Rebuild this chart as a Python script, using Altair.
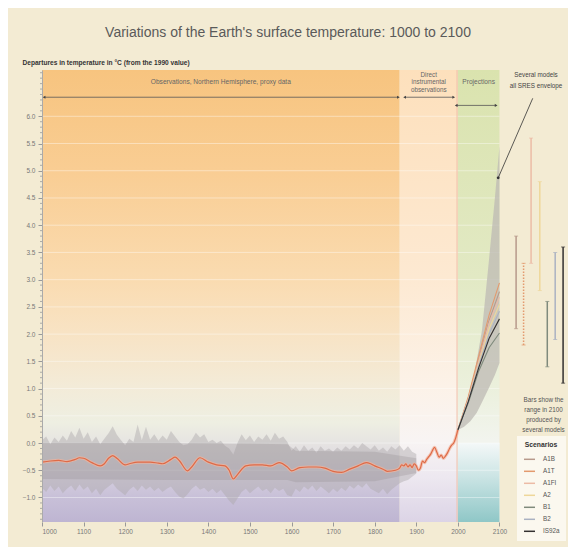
import altair as alt
import pandas as pd

# ---------------- data ----------------
period_names = ["proxy", "instrumental", "projection"]
period_start = [1000, 1860, 2000]
period_end = [1860, 2000, 2100]

# proxy-data envelope (annual spread), every 10 years 1000..1900
band_years = list(range(1000, 1901, 10))
band_upper = [0.05, 0.12, -0.02, 0.10, 0.02, 0.14, 0.04, 0.22, 0.10, 0.28,
              0.08, 0.20, 0.02, 0.12, -0.02, 0.08, 0.18, 0.31, 0.15, 0.05,
              -0.04, 0.08, 0.02, 0.34, 0.05, 0.30, 0.06, 0.16, 0.04, 0.14,
              0.06, 0.22, 0.12, 0.02, -0.04, -0.02, 0.06, 0.19, 0.10, 0.16,
              0.02, 0.06, 0.00, 0.04, -0.05, -0.10, -0.21, 0.00, 0.16, 0.05,
              0.14, 0.02, 0.12, 0.06, 0.16, 0.04, 0.19, 0.08, 0.12, 0.02,
              -0.14, -0.06, -0.16, -0.04, -0.14, -0.08, -0.18, -0.06, -0.14, -0.10,
              -0.16, -0.08, -0.14, -0.06, -0.12, -0.04, -0.10, 0.00, -0.06, -0.12,
              -0.04, -0.14, -0.08, -0.16, -0.06, -0.12, -0.04, -0.14, -0.06, -0.16,
              -0.20]
band_lower = [-0.82, -0.90, -0.78, -0.88, -0.80, -0.92, -0.84, -0.78, -0.88, -0.76,
              -0.86, -0.80, -0.92, -0.84, -0.96, -0.86, -0.80, -0.74, -0.84, -0.90,
              -0.96, -0.86, -0.80, -0.88, -0.78, -0.86, -0.80, -0.88, -0.82, -0.90,
              -0.84, -0.80, -0.90, -0.98, -1.02, -0.94, -0.84, -0.78, -0.86, -0.82,
              -0.90, -0.84, -0.92, -0.86, -0.96, -1.06, -1.14, -1.02, -0.90, -0.84,
              -0.92, -0.86, -0.80, -0.88, -0.84, -0.92, -0.82, -0.88, -0.84, -0.96,
              -0.98, -0.84, -0.90, -0.80, -0.86, -0.78, -0.88, -0.80, -0.86, -0.92,
              -0.84, -0.90, -0.82, -0.88, -0.78, -0.84, -0.76, -0.82, -0.74, -0.84,
              -0.88, -0.92, -0.84, -0.94, -0.86, -0.80, -0.74, -0.70, -0.68, -0.62,
              -0.56]

# darker core of the proxy spread
core_years = [1000, 1300, 1590, 1610, 1800, 1900]
core_upper = [0.00, 0.00, -0.02, -0.14, -0.16, -0.28]
core_lower = [-0.66, -0.68, -0.68, -0.72, -0.70, -0.55]

# smoothed proxy record (Northern Hemisphere)
proxy_years = [1000, 1020, 1040, 1060, 1080, 1090, 1100, 1120, 1140, 1150, 1160, 1170,
               1180, 1200, 1210, 1230, 1260, 1280, 1290, 1310, 1320, 1330, 1350, 1360,
               1380, 1400, 1420, 1440, 1450, 1460, 1470, 1490, 1510, 1530, 1550, 1570,
               1590, 1600, 1620, 1640, 1660, 1680, 1700, 1720, 1740, 1760, 1780, 1790,
               1800, 1820, 1830, 1850, 1860]
proxy_vals = [-0.35, -0.33, -0.32, -0.34, -0.30, -0.27, -0.28, -0.36, -0.42, -0.38, -0.28, -0.23,
              -0.28, -0.40, -0.38, -0.35, -0.35, -0.37, -0.38, -0.30, -0.26, -0.32, -0.51, -0.44,
              -0.27, -0.35, -0.40, -0.42, -0.50, -0.66, -0.58, -0.42, -0.40, -0.40, -0.42, -0.36,
              -0.44, -0.51, -0.45, -0.44, -0.44, -0.46, -0.52, -0.54, -0.48, -0.42, -0.36, -0.38,
              -0.42, -0.48, -0.52, -0.50, -0.46]

# direct instrumental record
instr_years = [1860, 1865, 1870, 1875, 1880, 1885, 1890, 1895, 1900, 1905, 1910, 1915,
               1920, 1925, 1930, 1935, 1940, 1944, 1950, 1955, 1960, 1965, 1970, 1975,
               1980, 1985, 1990, 1995, 2000]
instr_vals = [-0.46, -0.40, -0.42, -0.38, -0.44, -0.40, -0.45, -0.38, -0.42, -0.50, -0.46, -0.33,
              -0.36, -0.30, -0.25, -0.20, -0.12, -0.08, -0.18, -0.26, -0.22, -0.28, -0.24, -0.18,
              -0.10, -0.04, 0.00, 0.10, 0.24]

# projection envelope (several models, all SRES)
env_years = [2000, 2015, 2030, 2045, 2058, 2074, 2089, 2100]
env_upper = [0.24, 0.50, 0.85, 1.50, 2.07, 3.30, 4.50, 5.45]
env_lower = [0.24, 0.30, 0.40, 0.55, 0.75, 1.00, 1.25, 1.47]

# scenario projections
scenarios = ["A1B", "A1T", "A1FI", "A2", "B1", "B2", "IS92a"]
scen_colors = ["#b89a8c", "#e39a6e", "#ecbba6", "#eed79a", "#7f8a7c", "#aab2c2", "#333030"]
proj_years = [2000, 2025, 2050, 2075, 2100]
proj_vals = {
    "A1B":   [0.24, 0.82, 1.55, 2.25, 2.78],
    "A1T":   [0.24, 0.85, 1.60, 2.35, 2.94],
    "A1FI":  [0.24, 0.80, 1.50, 2.20, 2.68],
    "A2":    [0.24, 0.78, 1.45, 2.10, 2.55],
    "B1":    [0.24, 0.74, 1.32, 1.75, 2.02],
    "B2":    [0.24, 0.78, 1.42, 2.00, 2.42],
    "IS92a": [0.24, 0.76, 1.38, 1.92, 2.28],
}
# ranges in 2100 produced by several models
range_low = [2.1, 1.8, 3.3, 2.8, 1.4, 1.9, 1.1]
range_high = [3.8, 3.3, 5.6, 4.8, 2.6, 3.5, 3.6]

y_ticks = [-1.0, -0.5, 0.0, 0.5, 1.0, 1.5, 2.0, 2.5, 3.0, 3.5, 4.0, 4.5, 5.0, 5.5, 6.0]
y_minor = [-1.4, -1.3, -1.2, -1.1, -0.9, -0.8, -0.7, -0.6, -0.4, -0.3, -0.2, -0.1,
           0.1, 0.2, 0.3, 0.4, 0.6, 0.7, 0.8, 0.9, 1.1, 1.2, 1.3, 1.4, 1.6, 1.7, 1.8, 1.9,
           2.1, 2.2, 2.3, 2.4, 2.6, 2.7, 2.8, 2.9, 3.1, 3.2, 3.3, 3.4, 3.6, 3.7, 3.8, 3.9,
           4.1, 4.2, 4.3, 4.4, 4.6, 4.7, 4.8, 4.9, 5.1, 5.2, 5.3, 5.4, 5.6, 5.7, 5.8, 5.9,
           6.1, 6.2, 6.3, 6.4, 6.5, 6.6, 6.7, 6.8]
x_ticks = [1000, 1100, 1200, 1300, 1400, 1500, 1600, 1700, 1800, 1900, 2000, 2100]

# ---------------- layout helpers (not data) ----------------
FONT = "Liberation Sans"
XS = alt.Scale(domain=[1000, 2260], nice=False, zero=False)
YS = alt.Scale(domain=[-1.45, 6.85], nice=False, zero=False)
bar_slots = [2140, 2158, 2176, 2197, 2215, 2234, 2253]  # slots right of the plot for the range bars

AXX = alt.Axis(values=x_ticks, format="d", title=None, domain=False, grid=False,
               labelFontSize=6.5, labelColor="#777", labelFont=FONT,
               tickColor="#999", tickSize=4, labelPadding=2, zindex=2)
AXY = alt.Axis(values=y_ticks, format=".1f", grid=False,
               title="Departures in temperature in °C (from the 1990 value)",
               titleAngle=0, titleAlign="left", titleBaseline="bottom",
               titleX=-20, titleY=-5, titleFontSize=6.6, titleFont=FONT,
               titleFontWeight="bold", titleColor="#333",
               labelFontSize=6.5, labelColor="#777", labelFont=FONT,
               tickColor="#999", tickSize=4, labelPadding=3, domainColor="#aaa", zindex=2)


def X(f, **kw):
    return alt.X(f, type="quantitative", scale=XS, axis=AXX, **kw)


def Y(f, **kw):
    return alt.Y(f, type="quantitative", scale=YS, axis=AXY, **kw)


def grad(stops):
    return alt.Gradient(gradient="linear", x1=0, x2=0, y1=0, y2=1,
                        stops=[alt.GradientStop(offset=o, color=c) for o, c in stops])


Y_TOP, Y_BOT = 6.85, -1.45

# ---------------- background columns ----------------
bg_grads = [
    grad([(0.0, "#f7c47f"), (0.22, "#f9cd93"), (0.46, "#fadbb0"), (0.58, "#f8e3c4"),
          (0.70, "#f3ebd8"), (0.78, "#eeefe2"), (0.825, "#e6e4e2"), (0.886, "#d8d2e0"),
          (0.946, "#c8c0d8"), (1.0, "#beb5d2")]),
    grad([(0.0, "#fde0bc"), (0.46, "#fde9d2"), (0.70, "#fcf2e8"), (0.82, "#f8f4f3"),
          (0.90, "#ede8f0"), (1.0, "#dcd4e6")]),
    grad([(0.0, "#dae3ae"), (0.46, "#e2e9c4"), (0.70, "#ebf0dc"), (0.82, "#f2f4ee"),
          (1.0, "#f2f4ee")]),
]

layers = []
for i, name in enumerate(period_names):
    df = pd.DataFrame({"x0": [period_start[i]], "x1": [period_end[i]], "y0": [Y_BOT], "y1": [Y_TOP]})
    layers.append(alt.Chart(df).mark_rect(color=bg_grads[i]).encode(
        x=X("x0:Q"), x2="x1:Q", y=Y("y0:Q"), y2="y1:Q"))

# teal block below zero in projections column
teal = alt.Chart(pd.DataFrame({"x0": [2000], "x1": [2100], "y0": [Y_BOT], "y1": [0.0]})).mark_rect(
    color=grad([(0.0, "#f4f8f8"), (0.35, "#d3e8e8"), (1.0, "#8fc7c7")])
).encode(x=X("x0:Q"), x2="x1:Q", y=Y("y0:Q"), y2="y1:Q")
layers.append(teal)

# white grid lines
grid = alt.Chart(pd.DataFrame({"y": y_ticks, "x0": 1000, "x1": 2100})).mark_rule(
    color="white", opacity=0.4, strokeWidth=1
).encode(x=X("x0:Q"), x2="x1:Q", y=Y("y:Q"))
layers.append(grid)

# minor ticks along the y axis
layers.append(alt.Chart(pd.DataFrame({"y": y_minor})).mark_rule(color="#999", strokeWidth=0.8).encode(
    y=Y("y:Q"), x=alt.value(-2), x2=alt.value(0)))

# boundary line at 2000
layers.append(alt.Chart(pd.DataFrame({"x": [1998], "y0": [Y_BOT], "y1": [Y_TOP]})).mark_rule(
    color="#efbfaa", strokeWidth=1).encode(x=X("x:Q"), y=Y("y0:Q"), y2="y1:Q"))

# proxy spread
band_df = pd.DataFrame({"year": band_years, "hi": band_upper, "lo": band_lower})
layers.append(alt.Chart(band_df).mark_area(color="#aea8aa", opacity=0.45).encode(
    x=X("year:Q"), y=Y("lo:Q"), y2="hi:Q"))
core_df = pd.DataFrame({"year": core_years, "hi": core_upper, "lo": core_lower})
layers.append(alt.Chart(core_df).mark_area(color="#948e92", opacity=0.3).encode(
    x=X("year:Q"), y=Y("lo:Q"), y2="hi:Q"))

# projection envelope
env_df = pd.DataFrame({"year": env_years, "hi": env_upper, "lo": env_lower})
layers.append(alt.Chart(env_df).mark_area(color="#bdb9b4", opacity=0.75).encode(
    x=X("year:Q"), y=Y("lo:Q"), y2="hi:Q"))

color_scale = alt.Scale(domain=scenarios, range=scen_colors)

# scenario lines
rows = []
for s in scenarios:
    for yr, v in zip(proj_years, proj_vals[s]):
        rows.append({"scenario": s, "year": yr, "temp": v})
proj_df = pd.DataFrame(rows)
layers.append(alt.Chart(proj_df).mark_line(strokeWidth=1.1).encode(
    x=X("year:Q"), y=Y("temp:Q"),
    color=alt.Color("scenario:N", scale=color_scale, sort=scenarios,
                    legend=alt.Legend(title="Scenarios", orient="none", legendX=475, legendY=366,
                                      fillColor="#fbf8ef", padding=6, titleFontSize=6.8,
                                      titleFontWeight="bold", titleColor="#333", titleAnchor="middle",
                                      titleFont=FONT, labelFont=FONT, labelFontSize=6.3, labelColor="#555",
                                      symbolType="stroke", symbolSize=120, symbolStrokeWidth=1.5,
                                      rowPadding=2, titlePadding=4, labelOffset=7)),
    detail="scenario:N"))

# red temperature record with soft halo
red_df = pd.DataFrame({"year": proxy_years + instr_years[1:],
                       "temp": proxy_vals + instr_vals[1:]})
layers.append(alt.Chart(red_df).mark_line(color="#f2b49c", strokeWidth=3.2, opacity=0.7,
                                          interpolate="monotone").encode(
    x=X("year:Q"), y=Y("temp:Q")))
layers.append(alt.Chart(red_df).mark_line(color="#de6a47", strokeWidth=1.2, interpolate="monotone").encode(
    x=X("year:Q"), y=Y("temp:Q")))

# range bars at right
bars_df = pd.DataFrame({"scenario": scenarios, "slot": bar_slots, "lo": range_low, "hi": range_high})
layers.append(alt.Chart(bars_df).mark_rule(strokeWidth=1.5).encode(
    x=X("slot:Q"), y=Y("lo:Q"), y2="hi:Q",
    color=alt.Color("scenario:N", scale=color_scale, legend=None),
    strokeDash=alt.condition(alt.datum.scenario == "A1T", alt.value([1.5, 1.5]), alt.value([1, 0]))))
for fld in ["lo", "hi"]:
    layers.append(alt.Chart(bars_df).mark_tick(orient="horizontal", size=4, thickness=1).encode(
        x=X("slot:Q"), y=Y(f"{fld}:Q"),
        color=alt.Color("scenario:N", scale=color_scale, legend=None)))

# header arrows
arrows_df = pd.DataFrame({"x0": [1005, 1872, 1996], "x1": [1857, 1990, 2092], "y": [6.35, 6.35, 6.2]})
layers.append(alt.Chart(arrows_df).mark_rule(color="#555", strokeWidth=0.8).encode(
    x=X("x0:Q"), x2="x1:Q", y=Y("y:Q")))
layers.append(alt.Chart(arrows_df).mark_point(shape="triangle-left", filled=True, size=10, color="#444",
                                              opacity=1).encode(x=X("x0:Q"), y=Y("y:Q")))
layers.append(alt.Chart(arrows_df).mark_point(shape="triangle-right", filled=True, size=10, color="#444",
                                              opacity=1).encode(x=X("x1:Q"), y=Y("y:Q")))

# header texts
head_df = pd.DataFrame({"x": [1430, 2050], "y": [6.63, 6.63],
                        "t": ["Observations, Northern Hemisphere, proxy data", "Projections"]})
layers.append(alt.Chart(head_df).mark_text(fontSize=6.6, color="#666", font=FONT).encode(
    x=X("x:Q"), y=Y("y:Q"), text="t:N"))
layers.append(alt.Chart(pd.DataFrame({"x": [1930], "y": [6.82], "t": ["Direct\ninstrumental\nobservations"]}))
              .mark_text(fontSize=6.3, color="#666", font=FONT, lineBreak="\n", lineHeight=7.5,
                         baseline="top").encode(x=X("x:Q"), y=Y("y:Q"), text="t:N"))

# envelope annotation
layers.append(alt.Chart(pd.DataFrame({"x": [2188], "y": [6.81], "t": ["Several models\nall SRES envelope"]}))
              .mark_text(fontSize=6.3, color="#444", font=FONT, lineBreak="\n", lineHeight=11,
                         baseline="top").encode(x=X("x:Q"), y=Y("y:Q"), text="t:N"))
layers.append(alt.Chart(pd.DataFrame({"x0": [2180], "y0": [6.33], "x1": [2097], "y1": [4.87]}))
              .mark_rule(color="#333", strokeWidth=0.8).encode(x=X("x0:Q"), y=Y("y0:Q"), x2="x1:Q", y2="y1:Q"))
layers.append(alt.Chart(pd.DataFrame({"x": [2097], "y": [4.87]})).mark_circle(size=8, color="#333",
                                                                                 opacity=1)
              .encode(x=X("x:Q"), y=Y("y:Q")))

# bars note
layers.append(alt.Chart(pd.DataFrame({"x": [2206], "y": [0.84],
                                      "t": ["Bars show the\nrange in 2100\nproduced by\nseveral models"]}))
              .mark_text(fontSize=6.3, color="#555", font=FONT, lineBreak="\n", lineHeight=10,
                         baseline="top").encode(x=X("x:Q"), y=Y("y:Q"), text="t:N"))

chart = alt.layer(*layers).properties(
    width=524, height=452,
    background="#f3ebd3",
    padding={"left": 34, "top": 62, "right": 2, "bottom": 25},
    autosize=alt.AutoSizeParams(type="none"),
    title=alt.TitleParams("Variations of the Earth's surface temperature: 1000 to 2100",
                          fontSize=14, fontWeight="normal", color="#5a5a5a", font=FONT,
                          anchor="middle", frame="group", offset=19, dx=-16),
).configure_view(stroke=None)

chart.save("out.html", embed_options={"renderer": "svg", "actions": False})
